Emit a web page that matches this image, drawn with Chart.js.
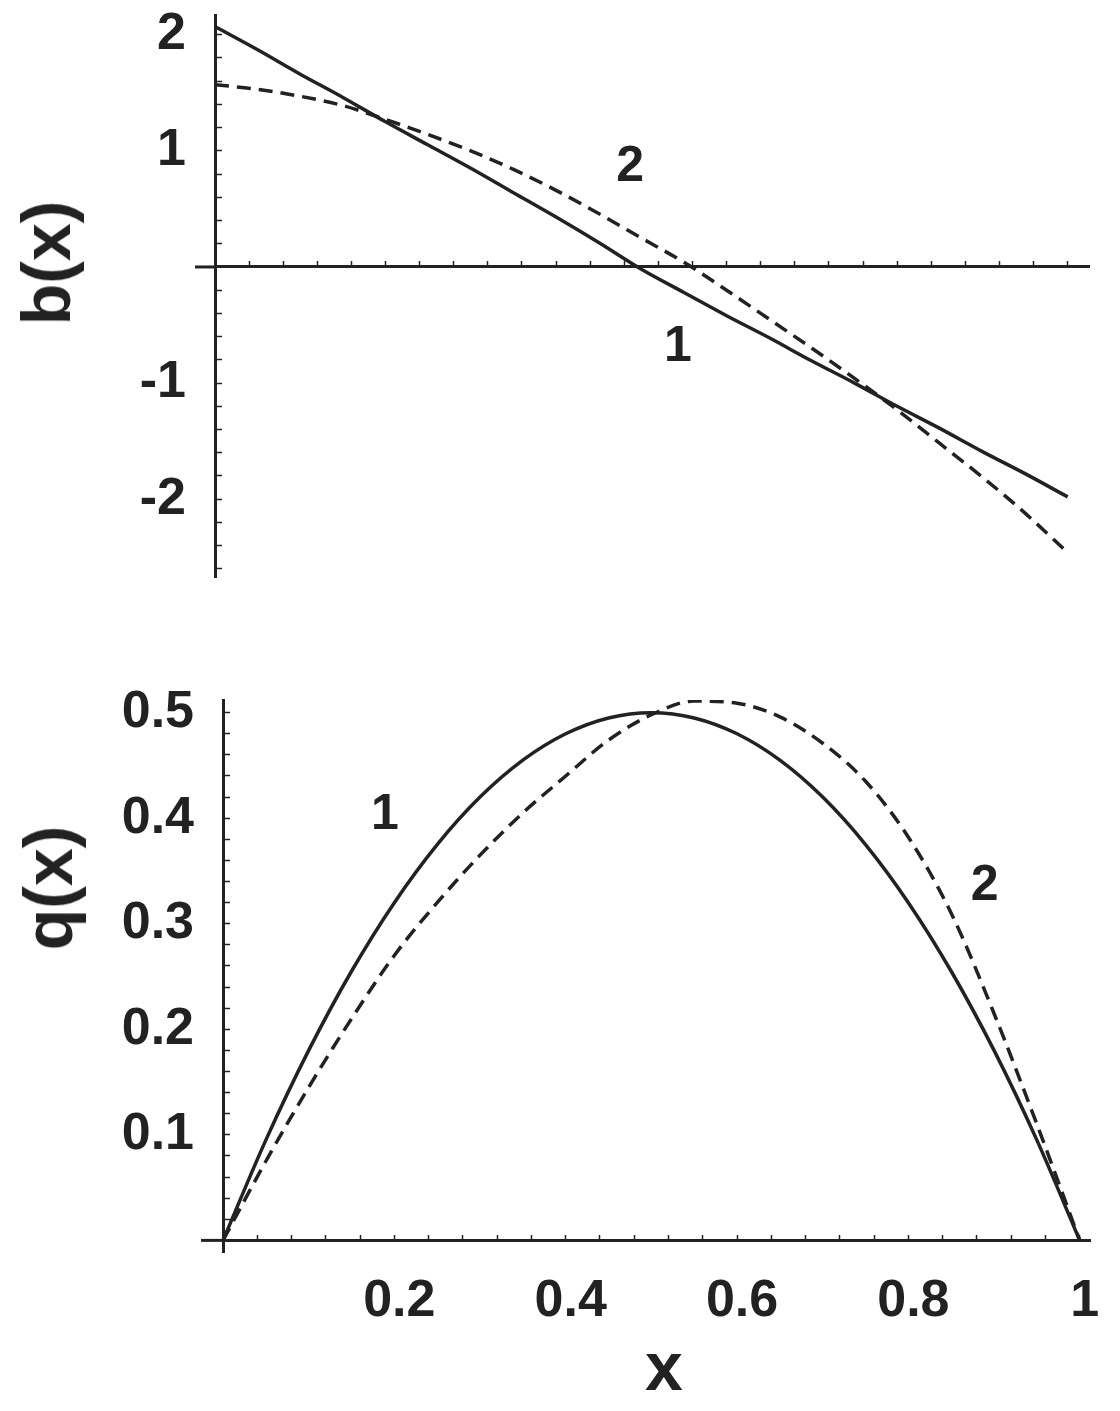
<!DOCTYPE html>
<html lang="en">
<head>
  <meta charset="UTF-8">
  <title>b(x) and q(x)</title>
  <script src="https://cdn.jsdelivr.net/npm/chart.js"></script>
  <style>
    body {
      margin: 0;
      background: #fff;
      font-family: "Liberation Sans", Arial, sans-serif;
    }
    .page {
      position: relative;
      width: 1120px;
      height: 1411px;
      overflow: hidden;
    }
    canvas {
      position: absolute;
      left: 0;
    }
    #topChart { top: 0; }
    #bottomChart { top: 660px; }
    .axis-title {
      position: absolute;
      color: #222;
      font-size: 68px;
      font-weight: bold;
      line-height: 1;
      white-space: nowrap;
    }
    #bTitle { left: 46px; top: 263px; transform: translate(-50%, -50%) rotate(-90deg); }
    #qTitle { left: 48px; top: 888px; transform: translate(-50%, -50%) rotate(-90deg); }
    #xTitle { left: 664px; top: 1366px; transform: translate(-50%, -50%); }
  </style>
</head>
<body>
  <div class="page">
    <canvas id="topChart" width="1120" height="620"></canvas>
    <canvas id="bottomChart" width="1120" height="751"></canvas>
    <div class="axis-title" id="bTitle">b(x)</div>
    <div class="axis-title" id="qTitle">q(x)</div>
    <div class="axis-title" id="xTitle">x</div>
  </div>

  <script>
    // sample positions along x
    const xs = [0, 0.05, 0.1, 0.15, 0.2, 0.25, 0.3, 0.35, 0.4, 0.45, 0.5,
                0.55, 0.6, 0.65, 0.7, 0.75, 0.8, 0.85, 0.9, 0.95, 1];

    // top panel, b(x): curve 1 solid, curve 2 dashed
    const b1 = [2.07, 1.87, 1.66, 1.46, 1.25, 1.05, 0.85, 0.64, 0.43, 0.21, -0.02,
                -0.22, -0.42, -0.61, -0.81, -1.0, -1.2, -1.39, -1.59, -1.78, -1.98];
    const b2 = [1.57, 1.53, 1.47, 1.39, 1.27, 1.14, 1.0, 0.84, 0.66, 0.46, 0.25,
                0.04, -0.2, -0.45, -0.7, -0.96, -1.23, -1.52, -1.81, -2.12, -2.46];

    // bottom panel, q(x)
    const q1 = [0, 0.095, 0.18, 0.255, 0.32, 0.375, 0.42, 0.455, 0.48, 0.495, 0.5,
                0.495, 0.48, 0.455, 0.42, 0.375, 0.32, 0.255, 0.18, 0.095, 0];
    const q2 = [0, 0.075, 0.145, 0.21, 0.27, 0.32, 0.365, 0.405, 0.44, 0.474, 0.498,
                0.511, 0.509, 0.496, 0.471, 0.435, 0.382, 0.31, 0.215, 0.11, 0];

    // tick labels
    const bTicks = [2, 1, -1, -2];
    const qTicks = [0.1, 0.2, 0.3, 0.4, 0.5];
    const xTicks = [0.2, 0.4, 0.6, 0.8, 1];

    // curve numbers placed next to the curves
    const bNotes = [{ text: "2", x: 0.487, y: 0.86 }, { text: "1", x: 0.543, y: -0.69 }];
    const qNotes = [{ text: "1", x: 0.189, y: 0.403 }, { text: "2", x: 0.889, y: 0.336 }];

    const ink = "#222";
    const fontFamily = '"Liberation Sans", Arial, sans-serif';
    const near = (a, b) => Math.abs(a - b) < 1e-6;

    const curve = (values, dashed) => ({
      data: xs.map((x, i) => ({ x: x, y: values[i] })),
      borderColor: ink,
      borderWidth: 3.5,
      borderDash: dashed ? [14, 8] : [],
      pointRadius: 0,
      cubicInterpolationMode: "monotone",
      fill: false
    });

    // writes the curve numbers and a short stub of the x axis left of the y axis
    const notesPlugin = {
      id: "notes",
      afterDatasetsDraw(chart, args, opts) {
        const { ctx } = chart;
        const sx = chart.scales.x, sy = chart.scales.y;
        ctx.save();
        ctx.strokeStyle = ink;
        ctx.lineWidth = 3;
        ctx.beginPath();
        ctx.moveTo(sx.getPixelForValue(0) - opts.stub, sy.getPixelForValue(0));
        ctx.lineTo(sx.getPixelForValue(0), sy.getPixelForValue(0));
        ctx.stroke();
        ctx.fillStyle = ink;
        ctx.font = "bold 50px " + fontFamily;
        ctx.textAlign = "center";
        ctx.textBaseline = "middle";
        opts.items.forEach(n => ctx.fillText(n.text, sx.getPixelForValue(n.x), sy.getPixelForValue(n.y)));
        ctx.restore();
      }
    };

    const makeChart = (id, cfg) => new Chart(document.getElementById(id), {
      type: "line",
      data: { datasets: [curve(cfg.solid, false), curve(cfg.dashed, true)] },
      plugins: [notesPlugin],
      options: {
        responsive: false,
        animation: false,
        layout: { padding: cfg.padding },
        plugins: {
          legend: { display: false },
          tooltip: { enabled: false },
          notes: { items: cfg.notes, stub: cfg.stub }
        },
        scales: {
          x: {
            type: "linear",
            min: 0,
            max: cfg.xMax,
            position: { y: 0 },
            border: { display: true, color: ink, width: 3 },
            grid: { drawOnChartArea: false, tickLength: -7, tickColor: ink, tickWidth: 1.5 },
            ticks: {
              display: cfg.xLabels.length > 0,
              stepSize: 0.04,
              includeBounds: false,
              autoSkip: false,
              maxRotation: 0,
              padding: 37,
              labelOffset: 5,
              color: ink,
              font: { family: fontFamily, size: 52, weight: "bold" },
              callback: v => {
                const hit = cfg.xLabels.find(t => near(t, v));
                return hit === undefined ? "" : String(hit);
              }
            },
            afterBuildTicks: s => {
              s.ticks = s.ticks.filter(t => t.value > 0.001 && t.value < 1.001);
            },
            afterFit: s => {
              s.height = 0;
              s.paddingLeft = 0;
              s.paddingRight = 0;
            }
          },
          y: {
            type: "linear",
            min: cfg.yMin,
            max: cfg.yMax,
            position: "left",
            border: { display: true, color: ink, width: 3 },
            grid: { drawOnChartArea: false, tickLength: -7, tickColor: ink, tickWidth: 1.5 },
            ticks: {
              stepSize: cfg.yStep,
              includeBounds: false,
              autoSkip: false,
              padding: 36,
              color: ink,
              font: { family: fontFamily, size: 52, weight: "bold" },
              callback: v => {
                const hit = cfg.yLabels.find(t => near(t, v));
                return hit === undefined ? "" : String(hit);
              }
            },
            afterBuildTicks: s => {
              s.ticks = s.ticks.filter(t => near(t.value / cfg.yStep, Math.round(t.value / cfg.yStep)));
            },
            afterFit: s => {
              s.width = cfg.axisLeft;
              s.paddingTop = 0;
              s.paddingBottom = 0;
            }
          }
        }
      }
    });

    makeChart("topChart", {
      solid: b1, dashed: b2, notes: bNotes,
      xMax: 1.025, yMin: -2.67, yMax: 2.17, yStep: 0.2,
      xLabels: [], yLabels: bTicks,
      axisLeft: 215, stub: 20,
      padding: { top: 15, bottom: 43, left: 0, right: 31 }
    });

    makeChart("bottomChart", {
      solid: q1, dashed: q2, notes: qNotes,
      xMax: 1.012, yMin: -0.011, yMax: 0.512, yStep: 0.02,
      xLabels: xTicks, yLabels: qTicks,
      axisLeft: 223, stub: 22,
      padding: { top: 40, bottom: 159, left: 0, right: 30 }
    });
  </script>
</body>
</html>
